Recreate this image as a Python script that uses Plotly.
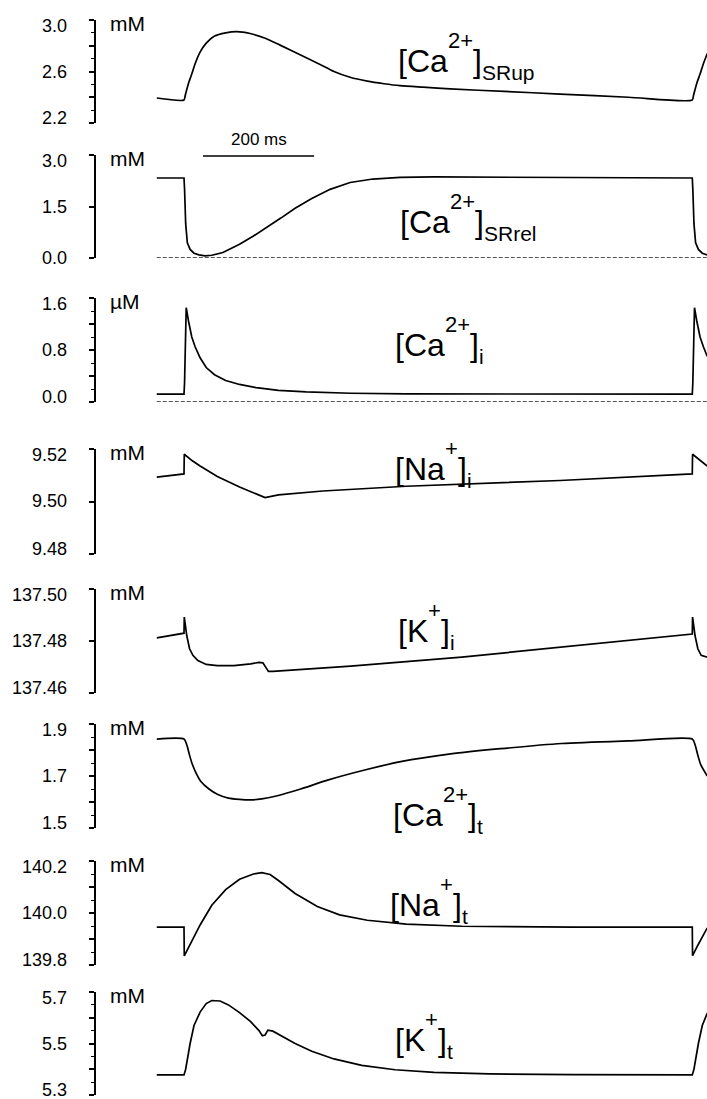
import plotly.graph_objects as go

W, H = 707, 1099
FONT = "Liberation Sans, Arial, sans-serif"

# ---------------- data (time in ms, stimulus at t = 0 and t = 915) ----------------
t_srup = [-49, 0, 2, 5, 9, 14, 20, 29, 40, 55, 75, 95, 119, 145, 173, 209, 245, 270, 299, 330, 360, 389, 430, 479, 577, 677, 800, 915, 917, 920, 924, 929, 935, 942]
ca_srup = [2.394, 2.379, 2.41, 2.46, 2.52, 2.58, 2.66, 2.75, 2.82, 2.875, 2.90, 2.91, 2.895, 2.86, 2.805, 2.73, 2.655, 2.60, 2.555, 2.525, 2.505, 2.49, 2.478, 2.465, 2.445, 2.425, 2.40, 2.379, 2.41, 2.46, 2.52, 2.58, 2.66, 2.74]

t_srrel = [-49, 0, 1, 3, 6, 11, 18, 27, 38, 50, 70, 100, 125, 150, 175, 200, 230, 263, 299, 340, 389, 450, 550, 700, 915, 916, 918, 921, 926, 933, 942]
ca_srrel = [2.33, 2.33, 2.0, 1.0, 0.44, 0.25, 0.14, 0.09, 0.06, 0.08, 0.16, 0.40, 0.64, 0.90, 1.17, 1.45, 1.73, 2.00, 2.20, 2.30, 2.35, 2.36, 2.35, 2.34, 2.33, 2.0, 1.0, 0.44, 0.25, 0.14, 0.09]

t_cai = [-49, 0, 1, 4, 8, 14, 20, 29, 40, 55, 75, 100, 130, 170, 220, 300, 400, 600, 915, 916, 919, 923, 929, 935, 942]
ca_i = [0.12, 0.12, 0.30, 1.45, 1.25, 1.00, 0.85, 0.68, 0.53, 0.42, 0.33, 0.27, 0.22, 0.18, 0.155, 0.135, 0.125, 0.12, 0.12, 0.30, 1.45, 1.25, 1.00, 0.85, 0.70]

t_nai = [-49, 0, 0.5, 15, 29, 60, 100, 146, 170, 250, 400, 677, 915, 915.5, 942]
na_i = [9.5093, 9.5105, 9.518, 9.5155, 9.5135, 9.5095, 9.5055, 9.5015, 9.5025, 9.504, 9.5058, 9.508, 9.5105, 9.518, 9.5135]

t_ki = [-49, 0, 0.5, 5, 10, 16, 25, 40, 60, 90, 120, 135, 142, 148, 152, 160, 300, 500, 700, 915, 915.5, 920, 925, 931, 942]
k_i = [137.4812, 137.4830, 137.4892, 137.482, 137.477, 137.4745, 137.4725, 137.471, 137.4705, 137.4705, 137.4712, 137.4718, 137.4716, 137.4695, 137.4683, 137.4683, 137.4703, 137.4738, 137.478, 137.4827, 137.4892, 137.482, 137.477, 137.4745, 137.4738]

t_cat = [-49, 0, 5, 10, 15, 22, 30, 45, 60, 80, 100, 119, 140, 170, 210, 260, 320, 390, 480, 570, 680, 800, 915, 920, 925, 930, 942]
ca_t = [1.842, 1.842, 1.82, 1.78, 1.745, 1.71, 1.68, 1.65, 1.63, 1.615, 1.61, 1.608, 1.612, 1.625, 1.65, 1.685, 1.72, 1.755, 1.785, 1.805, 1.825, 1.835, 1.842, 1.82, 1.78, 1.745, 1.70]

t_nat = [-49, 0, 0.5, 10, 29, 50, 75, 100, 125, 140, 155, 170, 200, 240, 280, 330, 400, 500, 700, 915, 915.5, 925, 942]
na_t = [139.946, 139.946, 139.835, 139.875, 139.954, 140.03, 140.09, 140.13, 140.15, 140.155, 140.148, 140.125, 140.075, 140.025, 139.993, 139.972, 139.957, 139.949, 139.946, 139.946, 139.836, 139.876, 139.943]

t_kt = [-49, 0, 3, 7, 11, 18, 29, 40, 50, 65, 80, 100, 120, 135, 141, 146, 151, 160, 175, 200, 230, 270, 320, 380, 450, 550, 700, 915, 918, 922, 926, 933, 942]
k_t = [5.378, 5.378, 5.40, 5.45, 5.50, 5.57, 5.622, 5.655, 5.667, 5.665, 5.65, 5.62, 5.585, 5.55, 5.53, 5.533, 5.552, 5.548, 5.53, 5.50, 5.47, 5.44, 5.415, 5.398, 5.388, 5.382, 5.379, 5.378, 5.40, 5.45, 5.50, 5.57, 5.618]

# axis ranges, ticks and tick labels
ranges = [[2.2, 3.0], [0.0, 3.0], [0.0, 1.6], [9.48, 9.52], [137.46, 137.50], [1.5, 1.9], [139.8, 140.2], [5.3, 5.7]]
major_ticks = [[2.2, 2.4, 2.6, 2.8, 3.0], [0.0, 1.5, 3.0], [0.0, 0.4, 0.8, 1.2, 1.6], [9.48, 9.50, 9.52],
               [137.46, 137.48, 137.50], [1.5, 1.6, 1.7, 1.8, 1.9], [139.8, 139.9, 140.0, 140.1, 140.2],
               [5.3, 5.4, 5.5, 5.6, 5.7]]
minor_ticks = [[2.3, 2.5, 2.7, 2.9], [], [0.2, 0.6, 1.0, 1.4], [], [], [1.55, 1.65, 1.75, 1.85],
               [139.85, 139.95, 140.05, 140.15], [5.35, 5.45, 5.55, 5.65]]
label_vals = [[3.0, 2.6, 2.2], [3.0, 1.5, 0.0], [1.6, 0.8, 0.0], [9.52, 9.50, 9.48], [137.50, 137.48, 137.46],
              [1.9, 1.7, 1.5], [140.2, 140.0, 139.8], [5.7, 5.5, 5.3]]
label_text = [["3.0", "2.6", "2.2"], ["3.0", "1.5", "0.0"], ["1.6", "0.8", "0.0"], ["9.52", "9.50", "9.48"],
              ["137.50", "137.48", "137.46"], ["1.9", "1.7", "1.5"], ["140.2", "140.0", "139.8"],
              ["5.7", "5.5", "5.3"]]
units = ["mM", "mM", "µM", "mM", "mM", "mM", "mM", "mM"]
names = [("[Ca", "2+", "]", "SRup"), ("[Ca", "2+", "]", "SRrel"), ("[Ca", "2+", "]", "i"),
         ("[Na", "+", "]", "i"), ("[K", "+", "]", "i"), ("[Ca", "2+", "]", "t"),
         ("[Na", "+", "]", "t"), ("[K", "+", "]", "t")]
scale_bar_ms = 200

series = [(t_srup, ca_srup), (t_srrel, ca_srrel), (t_cai, ca_i), (t_nai, na_i),
          (t_ki, k_i), (t_cat, ca_t), (t_nat, na_t), (t_kt, k_t)]
smooth = [True, False, False, False, False, True, False, False]

# ---------------- layout geometry (pixels) ----------------
panel_px = [(20, 123), (155, 258), (298, 402), (449, 554), (589, 693), (724, 828), (861, 965), (992, 1095)]
name_pos = [(398, 72), (400, 233), (395, 356), (395, 480), (398, 642), (393, 826), (390, 916), (395, 1051)]
AXIS_X = 95
PX_PER_MS = 0.5555
STIM_PX = 184
x_range = [-STIM_PX / PX_PER_MS, (W - STIM_PX) / PX_PER_MS]

CW = {'[': 278, ']': 278, 'C': 722, 'a': 556, 'N': 722, 'K': 667, '2': 556, '+': 584,
      'S': 667, 'R': 722, 'u': 556, 'p': 556, 'e': 556, 'l': 222, 'i': 222, 't': 278}


def width(s, size):
    return sum(CW.get(c, 556) for c in s) / 1000.0 * size


def txt(s, x_px, base_px, size, anchor='left'):
    center = base_px - 0.3465 * size
    return dict(text=s, x=x_px / W, y=1 - center / H, xref='paper', yref='paper',
                xanchor=anchor, yanchor='middle', showarrow=False, borderpad=0, borderwidth=0,
                font=dict(size=size, color='black', family=FONT))


fig = go.Figure()
annotations = []
layout_axes = {}

for i, ((t, v), (top, bot)) in enumerate(zip(series, panel_px)):
    n = i + 1
    yname = 'y' if n == 1 else f'y{n}'
    lname = 'yaxis' if n == 1 else f'yaxis{n}'
    line = dict(color='black', width=1.7)
    if smooth[i]:
        line.update(shape='spline', smoothing=0.7)
    fig.add_trace(go.Scatter(x=t, y=v, xaxis='x', yaxis=yname, mode='lines',
                             line=line, hoverinfo='skip', showlegend=False))
    ax = dict(domain=[1 - bot / H, 1 - top / H], range=ranges[i], anchor='free', position=AXIS_X / W,
              showline=True, linecolor='black', linewidth=1.5, ticks='outside', ticklen=5, tickwidth=1.5,
              tickcolor='black', tickvals=major_ticks[i], showticklabels=False, showgrid=False,
              zeroline=False, fixedrange=True)
    if minor_ticks[i]:
        ax['minor'] = dict(tickvals=minor_ticks[i], ticks='outside', ticklen=3, tickwidth=1.2,
                           tickcolor='black', showgrid=False)
    layout_axes[lname] = ax

    # tick labels
    for k, (val, lab) in enumerate(zip(label_vals[i], label_text[i])):
        if k == 0:
            ya, ys = 'top', 4
        elif k == 2 and n != 2:
            ya, ys = 'bottom', -5
        else:
            ya, ys = 'middle', 0
        annotations.append(dict(text=lab, x=67 / W, y=val, xref='paper', yref=yname, xanchor='right',
                                yanchor=ya, yshift=ys, showarrow=False, borderpad=0, borderwidth=0,
                                font=dict(size=18, color='black', family=FONT)))
    # unit
    annotations.append(txt(units[i], 110, top + 11, 21))

    # big label
    base, sup, close, sub = names[i]
    x0, yb = name_pos[i]
    annotations.append(txt(base, x0, yb, 32))
    x1 = x0 + width(base, 32)
    annotations.append(txt(sup, x1, yb - 24, 22))
    x2 = x1 + width(sup, 22)
    annotations.append(txt(close, x2, yb, 32))
    x3 = x2 + width(close, 32)
    annotations.append(txt(sub, x3, yb + 8, 21))

# dashed zero lines in panels 2 and 3
for yname in ['y2', 'y3']:
    fig.add_trace(go.Scatter(x=[t_srup[0], x_range[1]], y=[0, 0], xaxis='x', yaxis=yname, mode='lines',
                             line=dict(color='#555555', width=2, dash='4px,2px'), hoverinfo='skip',
                             showlegend=False))

# scale bar
sb_x0 = (203 - STIM_PX) / PX_PER_MS
fig.add_shape(type='line', xref='x', yref='paper', x0=sb_x0, x1=sb_x0 + scale_bar_ms,
              y0=1 - 156 / H, y1=1 - 156 / H, line=dict(color='black', width=1.5))
annotations.append(dict(text=f"{scale_bar_ms} ms", x=sb_x0 + scale_bar_ms / 2, y=1 - 139.5 / H,
                        xref='x', yref='paper', xanchor='center', yanchor='middle', showarrow=False,
                        borderpad=0, borderwidth=0, font=dict(size=17, color='black', family=FONT)))

fig.update_layout(
    width=W, height=H, margin=dict(l=0, r=0, t=0, b=0),
    paper_bgcolor='white', plot_bgcolor='white',
    xaxis=dict(domain=[0, 1], range=x_range, visible=False, fixedrange=True),
    annotations=annotations, showlegend=False, font=dict(family=FONT),
    **layout_axes
)

fig.write_html("out.html", config={'displayModeBar': False},
               post_script="document.body.style.margin='0';document.body.style.overflow='hidden';")
